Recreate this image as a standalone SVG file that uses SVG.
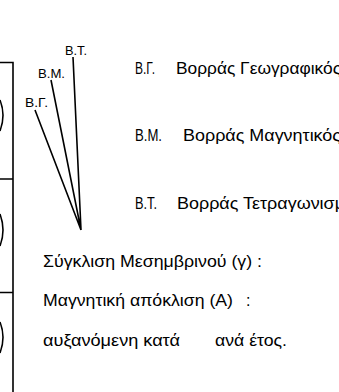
<svg xmlns="http://www.w3.org/2000/svg" width="339" height="392" viewBox="0 0 339 392">
<style>
.ln{stroke:#000;stroke-width:1.6;fill:none}
.lbl{font-family:"Liberation Sans",Arial,sans-serif;font-size:13px;fill:#000}
.t{font-family:"Liberation Sans","Noto Sans",sans-serif;font-size:16px;fill:#000}
</style>
<rect width="339" height="392" fill="#fff"/>
<g id="frame">
<path class="ln" d="M0 62.5H13V392M0 179H13M0 292.5H13"/>
<path class="ln" d="M0 100Q6 115 0 131M0 214Q6 230 0 246M0 322Q6 337 0 353" stroke-width="1.3"/>
</g>
<g id="connectors">
<path class="ln" d="M35 110L81 230M51 80L81 230M73 57L81 230"/>
</g>
<g id="node-bt"><text class="lbl" x="65" y="55" textLength="22" lengthAdjust="spacingAndGlyphs">B.T.</text></g>
<g id="node-bm"><text class="lbl" x="38" y="78" textLength="27" lengthAdjust="spacingAndGlyphs">B.M.</text></g>
<g id="node-bg"><text class="lbl" x="25" y="107" textLength="23" lengthAdjust="spacingAndGlyphs">B.Γ.</text></g>
<g id="legend">
<text class="t" x="135" y="74" textLength="20" lengthAdjust="spacingAndGlyphs">B.Γ.</text>
<text class="t" x="176" y="74" textLength="165" lengthAdjust="spacingAndGlyphs">Βορράς Γεωγραφικός</text>
<text class="t" x="135" y="141" textLength="27" lengthAdjust="spacingAndGlyphs">B.M.</text>
<text class="t" x="183" y="141" textLength="158" lengthAdjust="spacingAndGlyphs">Βορράς Μαγνητικός</text>
<text class="t" x="135" y="209" textLength="22" lengthAdjust="spacingAndGlyphs">B.T.</text>
<text class="t" x="177" y="209" textLength="168" lengthAdjust="spacingAndGlyphs">Βορράς Τετραγωνισμ</text>
<text class="t" x="43" y="267" textLength="219" lengthAdjust="spacingAndGlyphs">Σύγκλιση Μεσημβρινού (γ) :</text>
<text class="t" x="43" y="306" textLength="190" lengthAdjust="spacingAndGlyphs">Μαγνητική απόκλιση (Α)</text>
<text class="t" x="246" y="306">:</text>
<text class="t" x="43" y="346" textLength="137" lengthAdjust="spacingAndGlyphs">αυξανόμενη κατά</text>
<text class="t" x="215" y="346" textLength="72" lengthAdjust="spacingAndGlyphs">ανά έτος.</text>
</g>
</svg>
